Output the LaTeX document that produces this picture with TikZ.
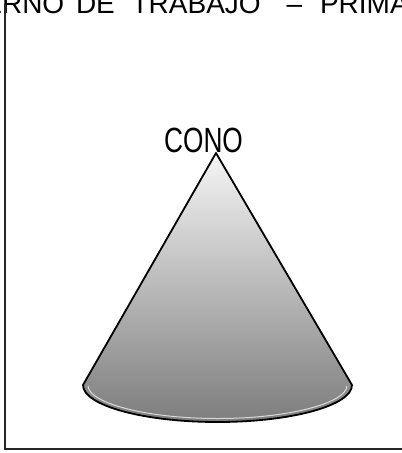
\documentclass[tikz,border=0pt]{standalone}
\usepackage{fontspec}
\setmainfont{Liberation Sans}
\newfontfamily\narrowfont[FakeStretch=0.75]{Liberation Sans}
\tikzset{
  frameline/.style={line width=2pt, draw=black!85, line cap=rect},
  conefill/.style={top color={rgb,255:red,245;green,245;blue,245}, bottom color={rgb,255:red,125;green,125;blue,125}},
  coneedge/.style={draw=black, line width=1.8pt, line join=round},
  shine/.style={draw=white, line width=1pt, opacity=0.7},
  headtext/.style={font=\fontsize{28}{28}\selectfont, inner sep=0pt},
  labeltext/.style={font=\narrowfont\fontsize{35}{35}\selectfont, inner sep=0pt, anchor=base}
}
\begin{document}
\begin{tikzpicture}[x=1pt,y=-1pt]
\useasboundingbox (0,0) rectangle (402,453);
\clip (0,0) rectangle (402,453);
\fill[white] (0,0) rectangle (402,453);

% header (cut off at top)
\node[headtext, anchor=base east] (h1) at (64.5,13) {CUADERNO};
\node[headtext, anchor=base west] (h2) at (75.8,13) {DE};
\node[headtext, anchor=base west] (h3) at (131.4,13) {TRABAJO};
\node[headtext, anchor=base] (h4) at (294.5,13) {–};
\node[headtext, anchor=base west] (h5) at (319.8,13) {PRIMARIA};

% frame
\coordinate (ftop) at (5,5);
\coordinate (fcorner) at (5,449);
\coordinate (fright) at (403,449);
\draw[frameline] (ftop) -- (fcorner) -- (fright);

% cone
\coordinate (apex) at (216,153);
\coordinate (bl) at (83,385);
\coordinate (br) at (352,385);
\coordinate (bb) at (217.5,422);
\shade[conefill] (apex) -- (bl) .. controls (83,405.4) and (143.2,422) .. (bb)
   .. controls (291.8,422) and (352,405.4) .. (br) -- cycle;
\draw[shine] (88,386) .. controls (89,403) and (146,418.5) .. (217.5,418.5)
   .. controls (289,418.5) and (346,403) .. (347,386);
\node[labeltext] (cono) at (203.5,152) {CONO};
\draw[coneedge] (apex) -- (bl) .. controls (83,405.4) and (143.2,422) .. (bb)
   .. controls (291.8,422) and (352,405.4) .. (br) -- cycle;
\end{tikzpicture}
\end{document}
